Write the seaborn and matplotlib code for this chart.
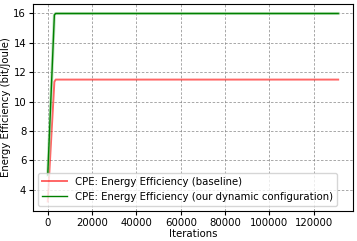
import pandas as pd
import matplotlib
matplotlib.use('Agg')
import matplotlib.pyplot as plt
import seaborn as sns

iterations = [0, 3000, 3600, 20000, 60000, 100000, 131000]
baseline_ee = [3.2, 11.35, 11.5, 11.5, 11.5, 11.5, 11.5]
dynamic_ee = [5.0, 15.9, 16.0, 16.0, 16.0, 16.0, 16.0]

label_base = 'CPE: Energy Efficiency (baseline)'
label_dyn = 'CPE: Energy Efficiency (our dynamic configuration)'

df = pd.DataFrame({'Iterations': iterations, 'base': baseline_ee, 'dyn': dynamic_ee})

plt.rcParams['font.family'] = ['DejaVu Sans']
plt.rcParams['font.size'] = 7.3

fig, ax = plt.subplots(figsize=(3.57, 2.41), dpi=100)
fig.subplots_adjust(left=0.093, right=0.988, top=0.983, bottom=0.125)

sns.lineplot(data=df, x='Iterations', y='base', ax=ax, color='red', alpha=0.6,
             linewidth=1.4, label=label_base)
sns.lineplot(data=df, x='Iterations', y='dyn', ax=ax, color='#90d090', alpha=0.6,
             linewidth=2.2)
sns.lineplot(data=df, x='Iterations', y='dyn', ax=ax, color='green',
             linewidth=1.0, label=label_dyn)

ax.set_xlabel('Iterations', labelpad=1)
ax.set_ylabel('Energy Efficiency (bit/Joule)', labelpad=2)
ax.set_yticks([4, 6, 8, 10, 12, 14, 16])
ax.set_xticks([0, 20000, 40000, 60000, 80000, 100000, 120000])
ax.grid(True, linestyle=(0, (3, 2)), color='gray', alpha=0.8, linewidth=0.6)
ax.tick_params(length=3, pad=2)
ax.legend(loc='lower left', fontsize=7.3, handlelength=2.4, borderaxespad=0.5)

fig.savefig('out.png', dpi=100)
